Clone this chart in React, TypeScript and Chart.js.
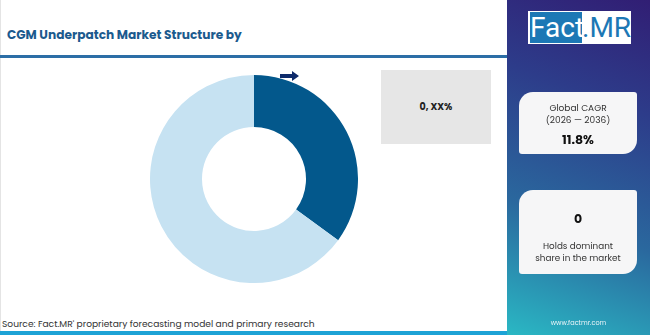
import React, { useEffect, useRef } from "react";
import { Chart, registerables } from "chart.js";

Chart.register(...registerables);

const segments = ["Leading Segment", "Others"];
const shares = [35, 65];
const segmentColors = ["#03588c", "#c6e2f2"];
const titleText = "CGM Underpatch Market Structure by";
const boxLabel = "0, XX%";
const cagrLabel = ["Global CAGR", "(2026 \u2014 2036)"];
const cagrValue = "11.8%";
const dominantValue = "0";
const dominantLabel = ["Holds dominant", "share in the market"];
const sourceText = "Source: Fact.MR' proprietary forecasting model and primary research";
const siteText = "www.factmr.com";

const FONT = "Poppins, Inter, 'Noto Sans', sans-serif";

export default function App() {
  const ref = useRef<HTMLCanvasElement | null>(null);
  useEffect(() => {
    document.body.style.margin = "0";
    if (!ref.current) return;
    const chart = new Chart(ref.current, {
      type: "doughnut",
      data: {
        labels: segments,
        datasets: [
          {
            data: shares,
            backgroundColor: segmentColors,
            borderWidth: 0,
          },
        ],
      },
      options: {
        animation: false,
        responsive: false,
        maintainAspectRatio: false,
        cutout: "50%",
        layout: { padding: 0 },
        plugins: { legend: { display: false }, tooltip: { enabled: false }, title: { display: false } },
      },
    });
    return () => chart.destroy();
  }, []);

  const card: React.CSSProperties = {
    position: "absolute",
    left: 519,
    width: 118,
    background: "#f6f6f7",
    borderRadius: "14px 3px 14px 3px",
    fontFamily: FONT,
    color: "#333",
    textAlign: "center",
  };

  return (
    <div style={{ position: "fixed", left: 0, top: 0, width: 650, height: 335, background: "#fff", overflow: "hidden", fontFamily: FONT }}>
      <div style={{ position: "absolute", left: 0, top: 0, width: 1, height: 335, background: "#e4e4e4" }} />
      <div style={{ position: "absolute", left: 7, top: 26, fontSize: 12.2, fontWeight: 700, color: "#1b5a8e", whiteSpace: "nowrap" }}>{titleText}</div>
      <div style={{ position: "absolute", left: 0, top: 55, width: 507, height: 3, background: "#2c6ea6" }} />
      <canvas ref={ref} width={208} height={208} style={{ position: "absolute", left: 150, top: 75, width: 208, height: 208 }} />
      <svg style={{ position: "absolute", left: 280, top: 71 }} width={20} height={10}>
        <path d="M0 3 L12 3 L12 0 L19 5 L12 10 L12 7 L0 7 Z" fill="#0e2b6b" />
      </svg>
      <div style={{ position: "absolute", left: 381, top: 70, width: 110, height: 74, background: "#e6e6e6", display: "flex", alignItems: "center", justifyContent: "center", fontSize: 9.5, fontWeight: 700, color: "#222" }}>{boxLabel}</div>
      <div style={{ position: "absolute", left: 2, top: 317, fontSize: 9.1, color: "#333", whiteSpace: "nowrap" }}>{sourceText}</div>
      <div style={{ position: "absolute", left: 0, top: 331, width: 507, height: 4, background: "#1da3d6" }} />
      <div style={{ position: "absolute", left: 507, top: 0, width: 143, height: 335, background: "linear-gradient(200deg, #311e74 0%, #2d3c8a 30%, #2a689e 65%, #2ab8c4 100%)" }} />
      <div style={{ position: "absolute", left: 528, top: 11, width: 103, height: 33, background: "#fff", display: "flex", alignItems: "stretch" }}>
        <div style={{ margin: "1px 0 1px 2px", width: 52, background: "#1c78b5", color: "#fff", fontFamily: "'Liberation Sans Narrow', 'Roboto', sans-serif", fontSize: 28, lineHeight: "31px", textAlign: "center" }}>Fact</div>
        <div style={{ flex: 1, color: "#1c78b5", fontFamily: "'Liberation Sans Narrow', 'Roboto', sans-serif", fontSize: 28, lineHeight: "31px", textAlign: "center", marginTop: 1 }}>.MR</div>
      </div>
      <div style={{ ...card, top: 92, height: 62 }}>
        <div style={{ position: "absolute", top: 10, width: "100%", fontSize: 9, lineHeight: "12px" }}>{cagrLabel[0]}<br />{cagrLabel[1]}</div>
        <div style={{ position: "absolute", top: 39, width: "100%", fontSize: 12.5, fontWeight: 700, color: "#111" }}>{cagrValue}</div>
      </div>
      <div style={{ ...card, top: 190, height: 84 }}>
        <div style={{ position: "absolute", top: 20, width: "100%", fontSize: 12.5, fontWeight: 700, color: "#111" }}>{dominantValue}</div>
        <div style={{ position: "absolute", top: 50, width: "100%", fontSize: 8.8, lineHeight: "12px" }}>{dominantLabel[0]}<br />{dominantLabel[1]}</div>
      </div>
      <div style={{ position: "absolute", left: 507, top: 318, width: 143, textAlign: "center", fontSize: 6.5, color: "#e8f4f8" }}>{siteText}</div>
    </div>
  );
}
